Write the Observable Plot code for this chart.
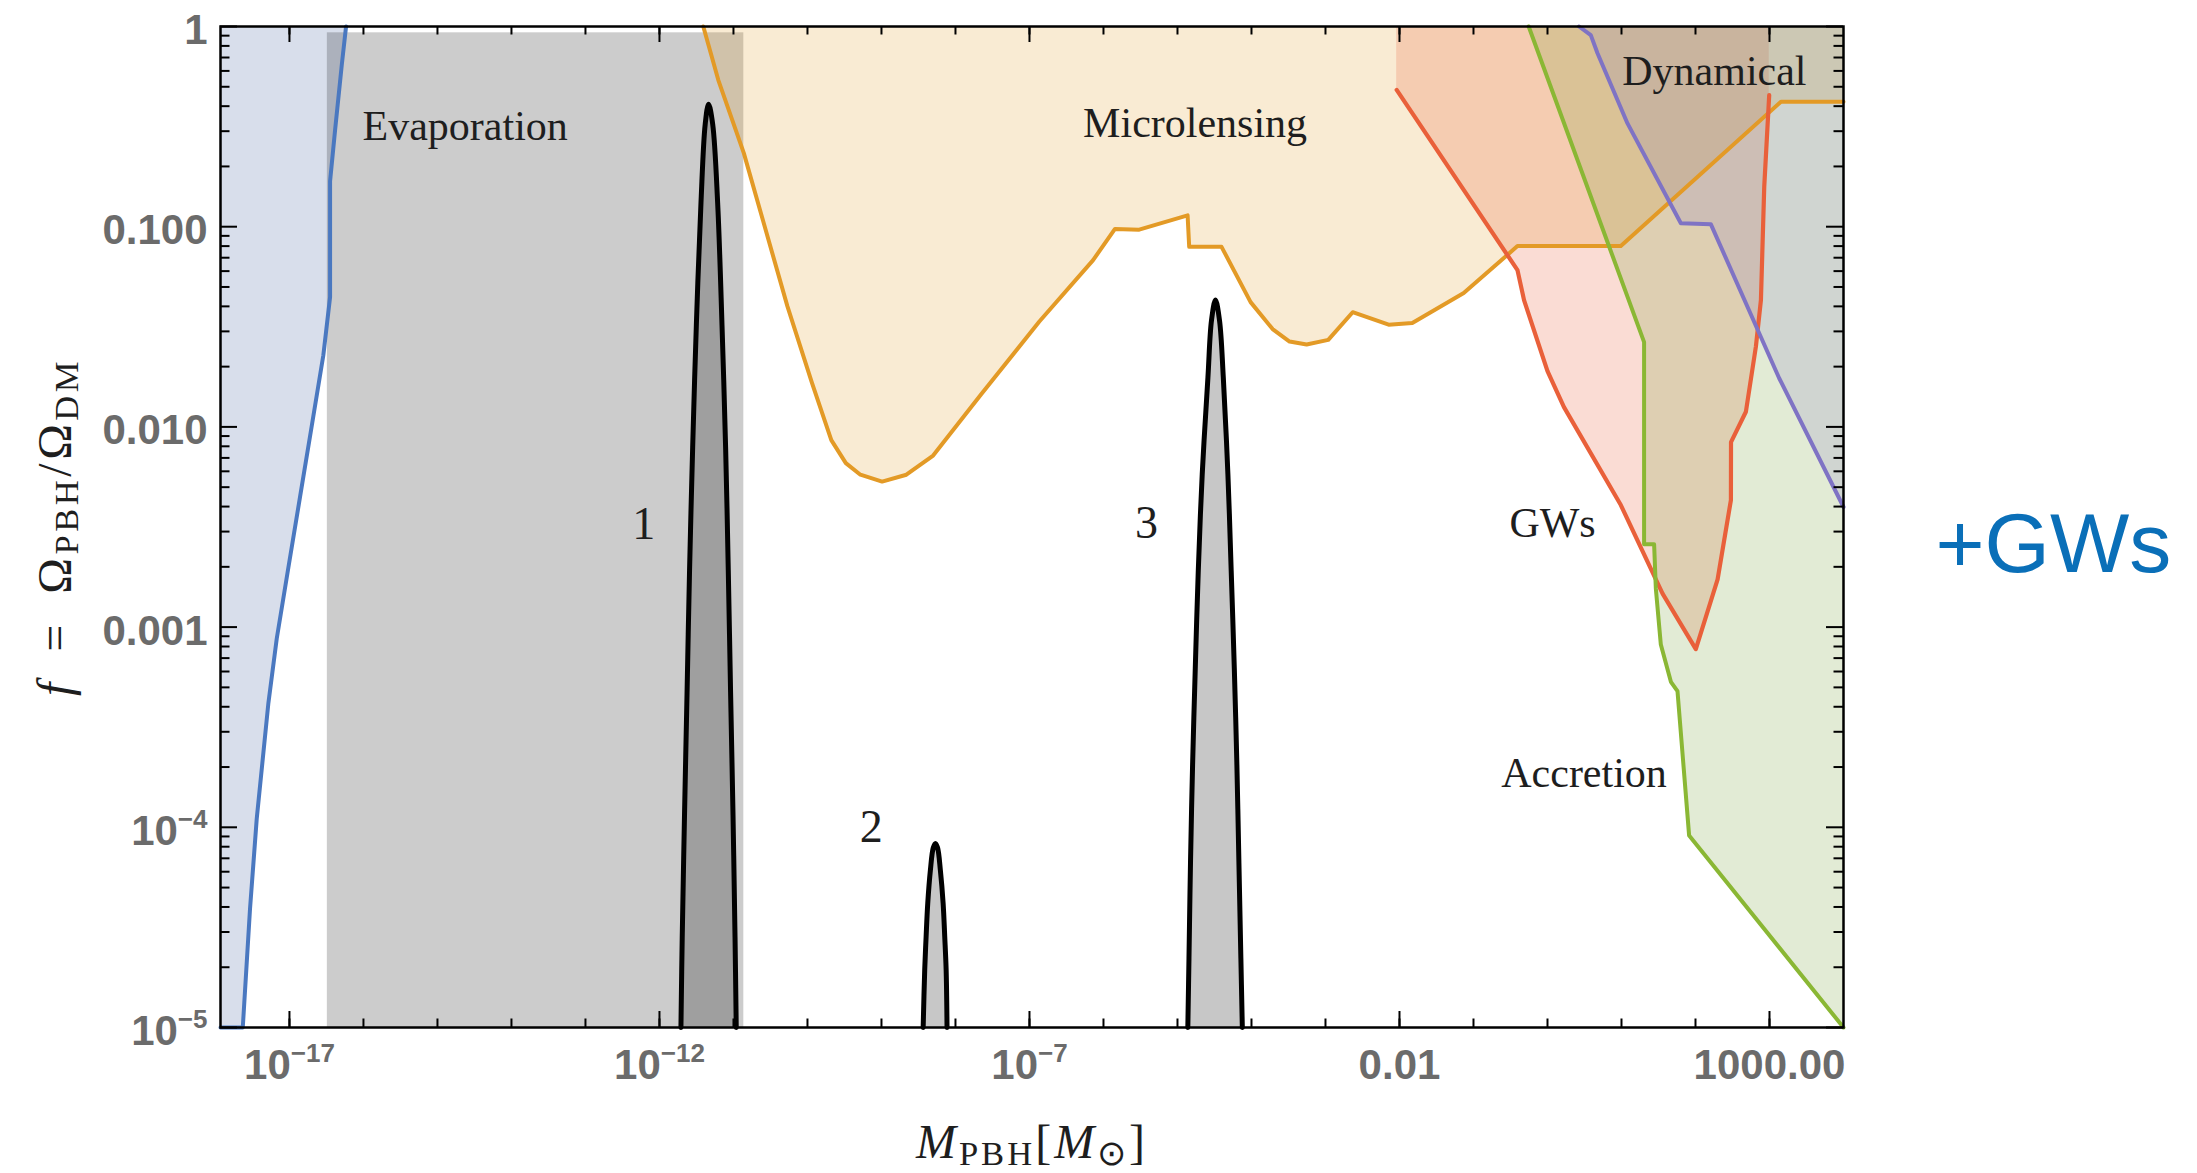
<!DOCTYPE html>
<html><head><meta charset="utf-8">
<script src="https://cdn.jsdelivr.net/npm/d3@7"></script>
<script src="https://cdn.jsdelivr.net/npm/@observablehq/plot@0.6"></script>
<style>html,body{margin:0;padding:0;background:#fff;} svg{display:block}</style>
</head><body><div id="chart"></div>
<script>
// ---------- axes ----------
const xDomain = [1.17e-18, 1e4];
const yDomain = [1e-5, 1];
const xTickValues = [1e-17, 1e-12, 1e-7, 1e-2, 1e3];
const xTickLabels = ["10{sup}−17{/}", "10{sup}−12{/}", "10{sup}−7{/}", "0.01", "1000.00"];
const yTickValues = [1, 0.1, 0.01, 0.001, 1e-4, 1e-5];
const yTickLabels = ["1", "0.100", "0.010", "0.001", "10{sup}−4{/}", "10{sup}−5{/}"];
const xTitle = "{i}M{/}{s}PBH{/}[{i}M{/}{s}⊙{/}]";
const yTitle = "{i}f{/}\u2002=\u2002Ω{s}PBH{/}/Ω{s}DM{/}";
const sideNote = ["+GWs"];

// ---------- constraint curves (M in solar masses, f) ----------
const blueM = [1.17e-18, 2.34e-18, 2.93e-18, 3.61e-18, 5.19e-18, 6.73e-18, 9.66e-18, 1.39e-17, 2.00e-17, 2.87e-17, 3.54e-17, 3.54e-17, 4.14e-17, 5.09e-17, 5.82e-17];
const blueF = [1e-5, 1e-5, 3.90e-5, 1.10e-4, 4.17e-4, 8.75e-4, 1.98e-3, 4.47e-3, 1.01e-2, 2.28e-2, 4.45e-2, 0.169, 0.305, 0.641, 1];

const evapM = [3.25e-17, 1.38e-11];
const evapF = [1e-5, 0.93];

const microM = [3.91e-12, 6.24e-12, 1.38e-11, 5.35e-11, 1.15e-10, 2.10e-10, 3.30e-10, 5.19e-10, 1.02e-9, 2.17e-9, 4.99e-9, 2.24e-8, 1.36e-7, 7.24e-7, 1.43e-6, 3.04e-6, 1.37e-5, 1.44e-5, 3.94e-5, 9.73e-5, 1.93e-4, 3.27e-4, 5.56e-4, 1.09e-3, 2.33e-3, 7.14e-3, 1.49e-2, 7.38e-2, 0.393, 9.79, 1430, 1e4];
const microF = [1, 0.540, 0.233, 0.0401, 0.0166, 8.59e-3, 6.59e-3, 5.77e-3, 5.33e-3, 5.77e-3, 7.19e-3, 0.0146, 0.0336, 0.0681, 0.0975, 0.0966, 0.114, 0.0793, 0.0793, 0.0420, 0.0308, 0.0267, 0.0258, 0.0272, 0.0374, 0.0324, 0.0330, 0.0466, 0.0800, 0.0800, 0.421, 0.421];

const gwM = [9.16e-3, 0.393, 0.482, 1.00, 1.67, 9.79, 35.9, 101, 199, 301, 302, 480, 655, 766, 849, 991];
const gwF = [0.482, 0.0607, 0.0430, 0.0190, 0.01256, 4.07e-3, 1.47e-3, 7.76e-4, 1.73e-3, 4.31e-3, 8.39e-3, 0.0119, 0.0252, 0.0430, 0.158, 0.454];

const accM = [0.557, 20.2, 20.2, 27.6, 29.1, 34.0, 46.5, 57.1, 82.0, 1e4];
const accF = [1, 0.0265, 2.59e-3, 2.59e-3, 1.56e-3, 8.18e-4, 5.33e-4, 4.79e-4, 9.10e-5, 1e-5];

const dynM = [2.67, 3.85, 4.74, 12.05, 63.4, 161, 1352, 1e4];
const dynF = [1, 0.906, 0.735, 0.328, 0.104, 0.103, 0.0175, 3.98e-3];

// ---------- PBH mass functions 1, 2, 3 ----------
const peak1M = [1.95e-12, 2.03e-12, 2.18e-12, 2.36e-12, 2.55e-12, 2.81e-12, 3.15e-12, 3.64e-12, 4.15e-12, 4.61e-12, 5.24e-12, 6.11e-12, 7.00e-12, 7.83e-12, 8.51e-12, 9.14e-12, 9.86e-12, 1.05e-11, 1.09e-11];
const peak1F = [1e-5, 2.82e-5, 1.15e-4, 4.73e-4, 1.92e-3, 7.93e-3, 0.0322, 0.132, 0.325, 0.409, 0.325, 0.132, 0.0322, 7.93e-3, 1.92e-3, 4.73e-4, 1.15e-4, 2.82e-5, 1e-5];
const peak2M = [3.66e-9, 3.84e-9, 4.01e-9, 4.22e-9, 4.58e-9, 5.01e-9, 5.36e-9, 5.73e-9, 6.25e-9, 6.81e-9, 7.16e-9, 7.48e-9, 7.69e-9];
const peak2F = [1e-5, 1.94e-5, 2.84e-5, 4.17e-5, 6.11e-5, 7.9e-5, 8.3e-5, 7.9e-5, 6.11e-5, 4.17e-5, 2.84e-5, 1.94e-5, 1e-5];
const peak3M = [1.38e-5, 1.43e-5, 1.50e-5, 1.60e-5, 1.74e-5, 1.91e-5, 2.16e-5, 2.58e-5, 2.88e-5, 3.26e-5, 3.70e-5, 4.16e-5, 4.80e-5, 5.32e-5, 5.86e-5, 6.35e-5, 6.76e-5, 7.19e-5, 7.52e-5];
const peak3F = [1e-5, 2.21e-5, 6.70e-5, 2.05e-4, 6.24e-4, 1.91e-3, 5.81e-3, 0.0177, 0.034, 0.043, 0.034, 0.0177, 5.81e-3, 1.91e-3, 6.24e-4, 2.05e-4, 6.70e-5, 2.21e-5, 1e-5];

// ---------- annotations ----------
const labelText = ["Evaporation", "Microlensing", "Dynamical", "GWs", "Accretion"];
const labelM = [2.37e-15, 1.73e-5, 180, 1.17, 3.12];
const labelF = [0.318, 0.326, 0.596, 3.28e-3, 1.85e-4];
const peakLabelText = ["1", "2", "3"];
const peakLabelM = [6.14e-13, 7.3e-10, 3.82e-6];
const peakLabelF = [3.27e-3, 1.0e-4, 3.3e-3];

// ---------- build ----------
const W = 2197, H = 1173, ML = 220, MR = 354, MT = 26, MB = 146;
const innerW = W - ML - MR, innerH = H - MT - MB;
const rows = (ms, fs) => ms.map((m, i) => ({m, f: fs[i]}));
const blue = rows(blueM, blueF), micro = rows(microM, microF), gw = rows(gwM, gwF),
      acc = rows(accM, accF), dyn = rows(dynM, dynF);
const peaks = [rows(peak1M, peak1F), rows(peak2M, peak2F), rows(peak3M, peak3F)];
const evap = [{m1: evapM[0], m2: evapM[1], f1: evapF[0], f2: evapF[1]}];
const labels = labelText.map((t, i) => ({t, m: labelM[i], f: labelF[i]}));
const peakLabels = peakLabelText.map((t, i) => ({t, m: peakLabelM[i], f: peakLabelF[i]}));
const xMap = new Map(xTickValues.map((v, i) => [v, xTickLabels[i]]));
const yMap = new Map(yTickValues.map((v, i) => [v, yTickLabels[i]]));
const xDecades = d3.range(-17, 4).map(k => Math.pow(10, k));
const yMinor = d3.range(-5, 0).flatMap(k => d3.range(2, 10).map(j => j * Math.pow(10, k)));

const serif = "Liberation Serif, Times New Roman, serif";
const sans = "Liberation Sans, Arial, Helvetica, sans-serif";
const tickStyle = {stroke: "black", strokeWidth: 2};

const chart = Plot.plot({
  width: W, height: H, marginLeft: ML, marginRight: MR, marginTop: MT, marginBottom: MB,
  style: {background: "#fff", fontFamily: sans, overflow: "visible"},
  x: {type: "log", domain: xDomain},
  y: {type: "log", domain: yDomain},
  marks: [
    Plot.areaY(blue, {x: "m", y1: "f", y2: 1, fill: "#3c5a9a", fillOpacity: 0.2}),
    Plot.rect(evap, {x1: "m1", x2: "m2", y1: "f1", y2: "f2", fill: "black", fillOpacity: 0.2}),
    Plot.areaY(micro, {x: "m", y1: "f", y2: 1, fill: "#E39B25", fillOpacity: 0.2}),
    Plot.areaY(gw, {x: "m", y1: "f", y2: 1, fill: "#E8603C", fillOpacity: 0.22}),
    Plot.areaY(acc, {x: "m", y1: "f", y2: 1, fill: "#6E9A2E", fillOpacity: 0.2}),
    Plot.areaY(dyn, {x: "m", y1: "f", y2: 1, fill: "#8072C0", fillOpacity: 0.18}),
    ...peaks.map(p => Plot.areaY(p, {x: "m", y1: 1e-5, y2: "f", fill: "black", fillOpacity: 0.22, curve: "catmull-rom"})),
    Plot.line(blue, {x: "m", y: "f", stroke: "#4a78c0", strokeWidth: 4}),
    Plot.line(micro, {x: "m", y: "f", stroke: "#E39A26", strokeWidth: 4}),
    Plot.line(gw, {x: "m", y: "f", stroke: "#E9603A", strokeWidth: 4.2}),
    Plot.line(acc, {x: "m", y: "f", stroke: "#8AB734", strokeWidth: 4}),
    Plot.line(dyn, {x: "m", y: "f", stroke: "#7F73C4", strokeWidth: 4}),
    ...peaks.map(p => Plot.line(p, {x: "m", y: "f", stroke: "black", strokeWidth: 5, curve: "catmull-rom"})),
    Plot.text(labels, {x: "m", y: "f", text: "t", fontSize: 42, fontFamily: serif, fill: "#1e1e1e"}),
    Plot.text(peakLabels, {x: "m", y: "f", text: "t", fontSize: 46, fontFamily: serif, fill: "#1e1e1e"}),
    // inward ticks on all four sides
    Plot.ruleY(yTickValues, {y: d => d, insetRight: innerW - 17, ...tickStyle}),
    Plot.ruleY(yMinor, {y: d => d, insetRight: innerW - 9.5, ...tickStyle}),
    Plot.ruleY(yTickValues, {y: d => d, insetLeft: innerW - 17, ...tickStyle}),
    Plot.ruleY(yMinor, {y: d => d, insetLeft: innerW - 9.5, ...tickStyle}),
    Plot.ruleX(xTickValues, {x: d => d, insetTop: innerH - 16, ...tickStyle}),
    Plot.ruleX(xDecades, {x: d => d, insetTop: innerH - 8.5, ...tickStyle}),
    Plot.ruleX(xTickValues, {x: d => d, insetBottom: innerH - 16, ...tickStyle}),
    Plot.ruleX(xDecades, {x: d => d, insetBottom: innerH - 8.5, ...tickStyle}),
    Plot.axisX(xTickValues, {tickSize: 0, tickPadding: 22, tickFormat: d => xMap.get(d), fontSize: 42, fontWeight: "bold", fill: "#6b6b6b", color: "#6b6b6b", fontFamily: sans, label: null}),
    Plot.axisY(yTickValues, {anchor: "left", tickSize: 0, tickPadding: 13, dy: 4, tickFormat: d => yMap.get(d), fontSize: 42, fontWeight: "bold", fill: "#6b6b6b", color: "#6b6b6b", fontFamily: sans, label: null}),
    Plot.text([xTitle], {text: d => d, frameAnchor: "bottom", textAnchor: "middle", lineAnchor: "bottom", dy: 130, fontSize: 48, fontFamily: serif, fill: "#1e1e1e"}),
    Plot.text([yTitle], {text: d => d, frameAnchor: "left", rotate: -90, textAnchor: "middle", lineAnchor: "bottom", dx: -150, fontSize: 48, fontFamily: serif, fill: "#1e1e1e"}),
    Plot.text(sideNote, {text: d => d, frameAnchor: "right", textAnchor: "start", lineAnchor: "bottom", dx: 92, dy: 45, fontSize: 84, fontFamily: sans, fill: "#0A6FB8"}),
    Plot.frame({stroke: "black", strokeWidth: 2.5})
  ]
});
document.getElementById("chart").append(chart);

// turn the small markup ({i} italic, {s} subscript, {sup} superscript) into tspans
const NS = "http://www.w3.org/2000/svg";
chart.querySelectorAll("text").forEach(el => {
  const s = el.textContent;
  if (!s.includes("{")) return;
  const F = parseFloat(getComputedStyle(el).fontSize) || 40;
  const isYTitle = s === yTitle, isXTitle = s === xTitle;
  el.textContent = "";
  let shift = 0;
  for (const m of s.matchAll(/\{(i|s|sup)\}(.*?)\{\/\}|([^{]+)/g)) {
    const kind = m[1] || "n";
    const txt = m[2] !== undefined ? m[2] : m[3];
    const ts = document.createElementNS(NS, "tspan");
    const target = kind === "s" ? 0.16 * F : kind === "sup" ? -0.41 * F : 0;
    if (target !== shift) ts.setAttribute("dy", (target - shift).toFixed(2));
    shift = target;
    if (kind === "s") ts.setAttribute("font-size", (0.72 * F).toFixed(1));
    if (kind === "sup") ts.setAttribute("font-size", (0.62 * F).toFixed(1));
    if (kind === "i") ts.setAttribute("font-style", "italic");
    ts.textContent = txt;
    el.appendChild(ts);
  }
  if (isYTitle) el.setAttribute("letter-spacing", "3.5");
  if (isXTitle) el.setAttribute("letter-spacing", "3");
});
</script>
</body></html>
